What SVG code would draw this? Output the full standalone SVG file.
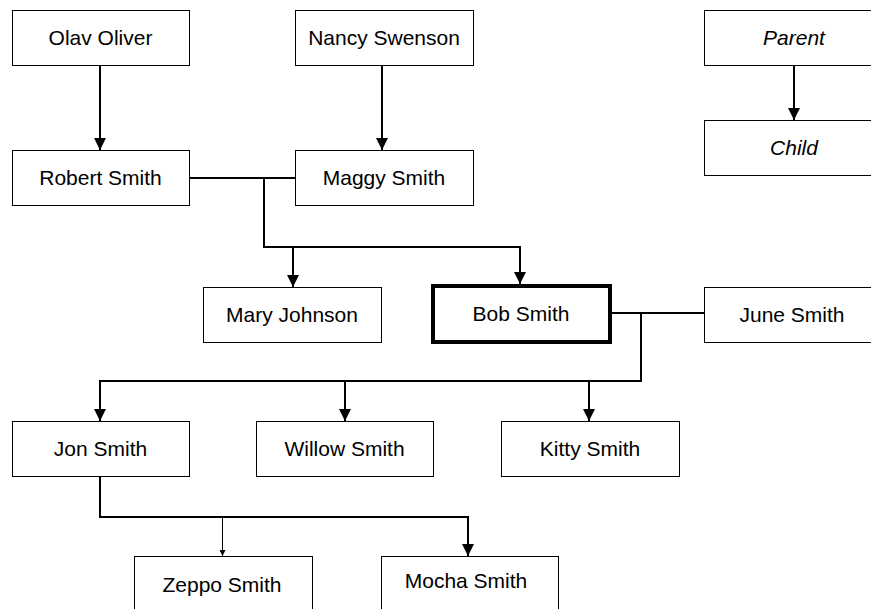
<svg xmlns="http://www.w3.org/2000/svg" width="871" height="609" viewBox="0 0 871 609">
  <style>
    .box { fill: #ffffff; stroke: #000000; stroke-width: 1; }
    .focus { fill: #ffffff; stroke: #000000; stroke-width: 4; }
    .label { font-family: "Liberation Sans", Arial, Helvetica, sans-serif; font-size: 21px; fill: #000000; text-anchor: middle; }
    .legend { font-style: italic; }
    .link { fill: none; stroke: #000000; stroke-width: 2; }
    .thin { stroke-width: 1; }
  </style>
  <defs>
    <marker id="arrow" viewBox="0 0 6 6" refX="6" refY="3" markerWidth="6" markerHeight="6" markerUnits="strokeWidth" orient="auto">
      <path d="M0,0 L6,3 L0,6 z" fill="#000000"/>
    </marker>
  </defs>

  <!-- connectors: parent-child arrows and marriage lines -->
  <g id="connectors">
    <path class="link" d="M100,65 V150" marker-end="url(#arrow)"/>
    <path class="link" d="M382,65 V150" marker-end="url(#arrow)"/>
    <path class="link" d="M794,65 V120" marker-end="url(#arrow)"/>
    <path class="link" d="M189,178 H295"/>
    <path class="link" d="M264,178 V247 H520 V284" marker-end="url(#arrow)"/>
    <path class="link" d="M293,247 V287" marker-end="url(#arrow)"/>
    <path class="link" d="M612,313 H704"/>
    <path class="link" d="M641,313 V381 H100 V421" marker-end="url(#arrow)"/>
    <path class="link" d="M345,381 V421" marker-end="url(#arrow)"/>
    <path class="link" d="M589,381 V421" marker-end="url(#arrow)"/>
    <path class="link" d="M100,476 V517 H468 V556" marker-end="url(#arrow)"/>
    <path class="link thin" d="M222.5,517 V556" marker-end="url(#arrow)"/>
  </g>

  <!-- legend -->
  <g id="legend-parent">
    <rect class="box" x="704.5" y="10.5" width="180" height="55"/>
    <text class="label legend" x="794" y="45">Parent</text>
  </g>
  <g id="legend-child">
    <rect class="box" x="704.5" y="120.5" width="180" height="55"/>
    <text class="label legend" x="794" y="155">Child</text>
  </g>

  <!-- people -->
  <g id="olav-oliver">
    <rect class="box" x="12.5" y="10.5" width="177" height="55"/>
    <text class="label" x="100.5" y="45">Olav Oliver</text>
  </g>
  <g id="nancy-swenson">
    <rect class="box" x="295.5" y="10.5" width="178" height="55"/>
    <text class="label" x="384" y="45">Nancy Swenson</text>
  </g>
  <g id="robert-smith">
    <rect class="box" x="12.5" y="150.5" width="177" height="55"/>
    <text class="label" x="100.5" y="185">Robert Smith</text>
  </g>
  <g id="maggy-smith">
    <rect class="box" x="295.5" y="150.5" width="178" height="55"/>
    <text class="label" x="384" y="185">Maggy Smith</text>
  </g>
  <g id="mary-johnson">
    <rect class="box" x="203.5" y="287.5" width="178" height="55"/>
    <text class="label" x="292" y="322">Mary Johnson</text>
  </g>
  <g id="bob-smith">
    <rect class="focus" x="433" y="286" width="177" height="56"/>
    <text class="label" x="521" y="321">Bob Smith</text>
  </g>
  <g id="june-smith">
    <rect class="box" x="704.5" y="287.5" width="180" height="55"/>
    <text class="label" x="792" y="322">June Smith</text>
  </g>
  <g id="jon-smith">
    <rect class="box" x="12.5" y="421.5" width="177" height="55"/>
    <text class="label" x="100.5" y="456">Jon Smith</text>
  </g>
  <g id="willow-smith">
    <rect class="box" x="256.5" y="421.5" width="177" height="55"/>
    <text class="label" x="344.5" y="456">Willow Smith</text>
  </g>
  <g id="kitty-smith">
    <rect class="box" x="501.5" y="421.5" width="178" height="55"/>
    <text class="label" x="590" y="456">Kitty Smith</text>
  </g>
  <g id="zeppo-smith">
    <rect class="box" x="134.5" y="556.5" width="178" height="60"/>
    <text class="label" x="222" y="592">Zeppo Smith</text>
  </g>
  <g id="mocha-smith">
    <rect class="box" x="381.5" y="556.5" width="177" height="60"/>
    <text class="label" x="466" y="588">Mocha Smith</text>
  </g>
</svg>
